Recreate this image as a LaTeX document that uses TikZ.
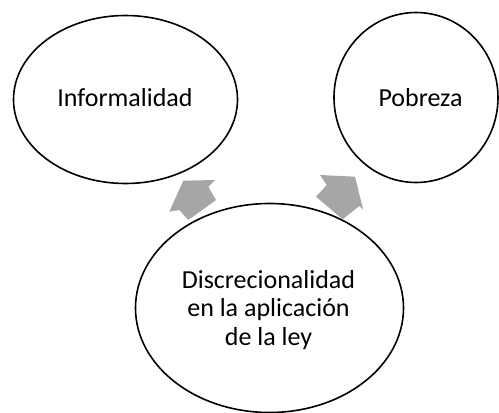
\documentclass[tikz,border=0pt]{standalone}
\usepackage{fontspec}
\setmainfont{Carlito}
\usetikzlibrary{shapes.geometric}
\begin{document}
\begin{tikzpicture}[x=1pt,y=-1pt,
  bubble/.style={draw=black,line width=1.6pt,ellipse,inner sep=0pt},
  label/.style={font=\fontsize{26}{28.5}\selectfont,align=center,anchor=base},
  blockarrow/.style={fill=black!35,draw=none}]
\useasboundingbox (0,0) rectangle (499,413);
\clip (0,0) rectangle (499,413);
\node[bubble,minimum width=224pt,minimum height=168pt] (inf) at (125.5,99.5) {};
\node[label] (inft) at (125,106) {Informalidad};
\node[bubble,minimum width=164pt,minimum height=170pt] (pob) at (416,97.5) {};
\node[label] (pobt) at (420.5,106) {Pobreza};
\node[bubble,minimum width=268pt,minimum height=209pt] (dis) at (269.5,308) {};
\node[label] (dist) at (268.5,345) {Discrecionalidad\\en la aplicación\\de la ley};
\fill[blockarrow] (183.3,180.7) -- (215,180) -- (208.3,186.7) -- (216,200) -- (188.3,220) -- (179.3,210) -- (169.3,211.7) -- cycle;
\fill[blockarrow] (355,176.7) -- (363.3,210) -- (359.3,206) -- (342.7,219.3) -- (316,196.7) -- (326.7,185) -- (320,175) -- cycle;
\end{tikzpicture}
\end{document}
